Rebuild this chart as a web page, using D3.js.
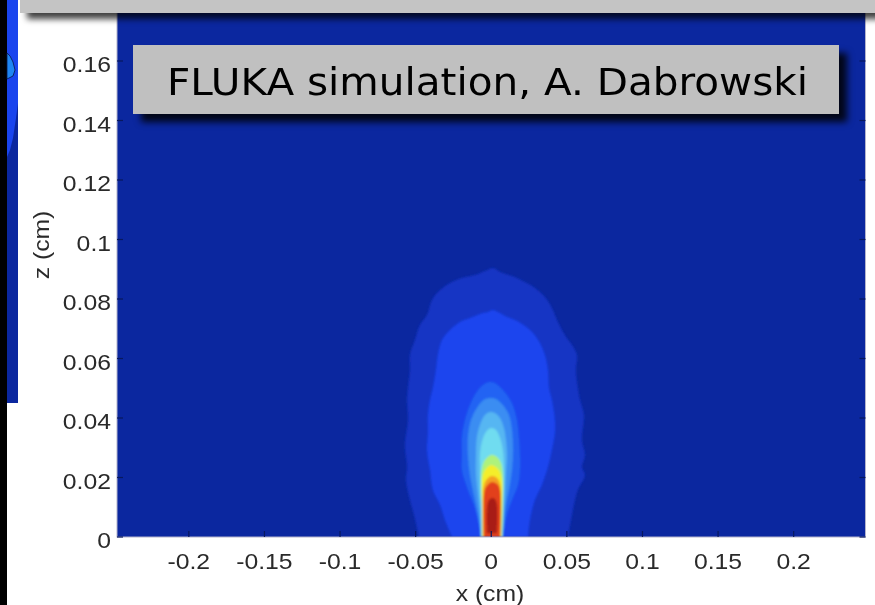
<!DOCTYPE html>
<html>
<head>
<meta charset="utf-8">
<script src="https://cdn.jsdelivr.net/npm/d3@7"></script>
<style>
  html, body { margin: 0; padding: 0; background: #fff; overflow: hidden; }
  svg { display: block; }
</style>
</head>
<body>
<svg id="chart" width="875" height="605"></svg>
<script>
// ---- axis ticks ----
const xTicks = [-0.2, -0.15, -0.1, -0.05, 0, 0.05, 0.1, 0.15, 0.2];
const xTickLabels = ["-0.2", "-0.15", "-0.1", "-0.05", "0", "0.05", "0.1", "0.15", "0.2"];
const zTicks = [0, 0.02, 0.04, 0.06, 0.08, 0.1, 0.12, 0.14, 0.16, 0.18];
const zTickLabels = ["0", "0.02", "0.04", "0.06", "0.08", "0.1", "0.12", "0.14", "0.16", "0.18"];

// ---- filled contour levels (x cm, z cm), outermost first ----
const levelColors = ["#1434c4", "#1a45ee", "#2064f3", "#3a8df2", "#56b6f2",
                     "#70dcf0", "#aef27c", "#f4ee2a", "#f4a024", "#e2401a", "#a81c12"];
const backgroundColor = "#0b279f";

const level1 = [[-0.0478,0],[-0.0511,0.0074],[-0.0538,0.0124],[-0.0564,0.0192],[-0.0557,0.0235],
  [-0.0571,0.0309],[-0.0551,0.0393],[-0.0557,0.0461],[-0.0551,0.0501],[-0.0538,0.0561],
  [-0.0538,0.0612],[-0.0505,0.0662],[-0.0472,0.0713],[-0.0425,0.0746],[-0.0392,0.0797],
  [-0.0339,0.0830],[-0.0273,0.0854],[-0.0194,0.0871],[-0.0108,0.0881],[-0.0028,0.0897],
  [0.0011,0.0904],[0.0058,0.0891],[0.0137,0.0877],[0.0223,0.0857],[0.0289,0.0837],
  [0.0355,0.0807],[0.0401,0.0770],[0.0441,0.0723],[0.0487,0.0679],[0.0534,0.0645],
  [0.0567,0.0612],[0.0560,0.0561],[0.0573,0.0501],[0.0587,0.0461],[0.0613,0.0410],
  [0.0600,0.0326],[0.0620,0.0276],[0.0600,0.0235],[0.0620,0.0208],[0.0573,0.0158],
  [0.0554,0.0124],[0.0534,0.0074],[0.0507,0]];
const level2 = [[-0.0260,0],[-0.0306,0.0057],[-0.0339,0.0108],[-0.0386,0.0158],[-0.0405,0.0225],
  [-0.0425,0.0292],[-0.0419,0.0350],[-0.0419,0.0410],[-0.0405,0.0461],[-0.0386,0.0501],
  [-0.0366,0.0561],[-0.0353,0.0612],[-0.0326,0.0662],[-0.0273,0.0696],[-0.0207,0.0723],
  [-0.0141,0.0736],[-0.0075,0.0750],[-0.0022,0.0756],[0.0011,0.0763],[0.0044,0.0756],
  [0.0091,0.0743],[0.0157,0.0729],[0.0223,0.0709],[0.0276,0.0686],[0.0322,0.0652],
  [0.0355,0.0612],[0.0375,0.0561],[0.0382,0.0501],[0.0401,0.0461],[0.0421,0.0393],
  [0.0421,0.0350],[0.0401,0.0292],[0.0375,0.0235],[0.0335,0.0175],[0.0289,0.0124],
  [0.0256,0.0057],[0.0243,0]];
const level3 = [[-0.0062,0],[-0.0088,0.0057],[-0.0115,0.0108],[-0.0154,0.0158],[-0.0194,0.0225],
  [-0.0194,0.0276],[-0.0194,0.0336],[-0.0174,0.0393],[-0.0141,0.0444],[-0.0101,0.0484],
  [-0.0055,0.0511],[-0.0015,0.0521],[0.0024,0.0518],[0.0077,0.0494],[0.0137,0.0450],
  [0.0170,0.0393],[0.0183,0.0336],[0.0190,0.0276],[0.0190,0.0225],[0.0177,0.0175],
  [0.0137,0.0124],[0.0104,0.0074],[0.0077,0]];
const level4 = [[-0.0068,0],[-0.0088,0.0074],[-0.0115,0.0141],[-0.0141,0.0208],[-0.0154,0.0276],
  [-0.0154,0.0336],[-0.0134,0.0393],[-0.0095,0.0434],[-0.0048,0.0461],[-0.0009,0.0467],
  [0.0031,0.0464],[0.0077,0.0444],[0.0117,0.0410],[0.0137,0.0360],[0.0144,0.0292],
  [0.0137,0.0225],[0.0117,0.0158],[0.0097,0.0108],[0.0077,0]];
const level5 = [[-0.0068,0],[-0.0075,0.0074],[-0.0088,0.0141],[-0.0101,0.0208],[-0.0101,0.0276],
  [-0.0095,0.0336],[-0.0075,0.0376],[-0.0042,0.0410],[-0.0009,0.0420],[0.0024,0.0417],
  [0.0058,0.0400],[0.0084,0.0366],[0.0097,0.0326],[0.0104,0.0276],[0.0097,0.0208],
  [0.0091,0.0141],[0.0084,0.0074],[0.0077,0]];
const level6 = [[-0.0068,0],[-0.0068,0.0091],[-0.0075,0.0158],[-0.0075,0.0225],[-0.0075,0.0276],
  [-0.0062,0.0319],[-0.0035,0.0353],[-0.0002,0.0366],[0.0031,0.0360],[0.0058,0.0333],
  [0.0077,0.0292],[0.0084,0.0242],[0.0084,0.0175],[0.0077,0.0091],[0.0071,0]];
const level7 = [[-0.0062,0],[-0.0062,0.0124],[-0.0068,0.0192],[-0.0062,0.0232],[-0.0042,0.0259],
  [-0.0002,0.0276],[0.0038,0.0269],[0.0064,0.0249],[0.0077,0.0208],[0.0077,0.0124],[0.0071,0]];
const level8 = [[-0.0055,0],[-0.0062,0.0124],[-0.0062,0.0175],[-0.0055,0.0208],[-0.0035,0.0229],
  [-0.0002,0.0242],[0.0031,0.0235],[0.0058,0.0218],[0.0071,0.0185],[0.0071,0.0124],[0.0064,0]];
const level9 = [[-0.0055,0],[-0.0055,0.0141],[-0.0048,0.0175],[-0.0028,0.0195],[0.0005,0.0205],
  [0.0038,0.0198],[0.0058,0.0178],[0.0064,0.0141],[0.0064,0]];
const level10 = [[-0.0048,0],[-0.0048,0.0141],[-0.0035,0.0168],[0.0005,0.0185],[0.0038,0.0178],
  [0.0058,0.0158],[0.0058,0]];
const level11 = [[-0.0028,0.0013],[-0.0028,0.0097],[-0.0015,0.0124],[0.0005,0.0131],[0.0024,0.0128],
  [0.0038,0.0108],[0.0038,0.0013]];
const levels = [level1, level2, level3, level4, level5, level6, level7, level8, level9, level10, level11];

const titleText = "FLUKA simulation, A. Dabrowski";

// ---- layout ----
const W = 875, H = 605;
const plot = { left: 117, right: 865.5, top: 0, bottom: 537 };

const svg = d3.select("#chart");
const defs = svg.append("defs");

defs.append("clipPath").attr("id", "plotClip")
  .append("rect")
  .attr("x", plot.left).attr("y", plot.top)
  .attr("width", plot.right - plot.left).attr("height", plot.bottom - plot.top);

defs.append("filter").attr("id", "soft")
  .attr("x", "-5%").attr("y", "-5%").attr("width", "110%").attr("height", "110%")
  .append("feGaussianBlur").attr("stdDeviation", 1.3);

defs.append("filter").attr("id", "textSoft")
  .append("feGaussianBlur").attr("stdDeviation", 0.55);

function dropShadow(id, dx, dy, sd, op, h) {
  defs.append("filter").attr("id", id)
    .attr("x", "-5%").attr("y", "-20%").attr("width", "115%").attr("height", h)
    .append("feDropShadow")
    .attr("dx", dx).attr("dy", dy).attr("stdDeviation", sd)
    .attr("flood-color", "#000").attr("flood-opacity", op);
}
dropShadow("barShadow", 7, 6, 3, 0.75, "300%");
dropShadow("boxShadow", 8, 8, 3.5, 0.85, "160%");

// page background
svg.append("rect").attr("width", W).attr("height", H).attr("fill", "#fff");

// left strip: edge of a neighbouring panel
svg.append("rect").attr("x", 0).attr("y", 0).attr("width", 7).attr("height", H).attr("fill", "#000");
svg.append("rect").attr("x", 7).attr("y", 0).attr("width", 11).attr("height", 403).attr("fill", backgroundColor);
svg.append("path").attr("d", "M7,0 L18,0 L18,103 L16,118 L13,138 L10,150 L7,157 Z").attr("fill", "#1a45ee");
svg.append("path").attr("d", "M7,53 L10,56 L13,62 L15,70 L13,76 L9,78 L7,79 Z")
  .attr("fill", "#1f86f2").attr("stroke", "#06164a").attr("stroke-width", 0.8);

// scales
const x = d3.scaleLinear().domain([-0.2475, 0.2475]).range([plot.left, plot.right]);
const y = d3.scaleLinear().domain([0, 0.18]).range([537, 1.5]);

// plot background (lowest contour level)
svg.append("rect")
  .attr("x", plot.left).attr("y", plot.top)
  .attr("width", plot.right - plot.left).attr("height", plot.bottom - plot.top)
  .attr("fill", backgroundColor);

// filled contours
const contourLine = d3.line()
  .x(d => x(d[0]))
  .y(d => y(d[1]))
  .curve(d3.curveCatmullRom.alpha(0.5));

svg.append("g").attr("clip-path", "url(#plotClip)")
  .append("g").attr("filter", "url(#soft)")
  .selectAll("path")
  .data(levels)
  .join("path")
  .attr("d", d => contourLine(d) + "Z")
  .attr("fill", (d, i) => levelColors[i]);

// axes frame
svg.append("rect")
  .attr("x", plot.left).attr("y", plot.top)
  .attr("width", plot.right - plot.left).attr("height", plot.bottom - plot.top)
  .attr("fill", "none").attr("stroke", "#b4b4cc").attr("stroke-width", 1);

const tickColor = "#08185e";
const tickLen = 6;
// bottom ticks (inward)
svg.append("g").selectAll("line").data(xTicks).join("line")
  .attr("x1", d => x(d)).attr("x2", d => x(d))
  .attr("y1", plot.bottom).attr("y2", plot.bottom - tickLen)
  .attr("stroke", tickColor).attr("stroke-width", 1.2);
// left and right ticks (inward)
svg.append("g").selectAll("line").data(zTicks).join("line")
  .attr("x1", plot.left).attr("x2", plot.left + tickLen)
  .attr("y1", d => y(d)).attr("y2", d => y(d))
  .attr("stroke", tickColor).attr("stroke-width", 1.2);
svg.append("g").selectAll("line").data(zTicks).join("line")
  .attr("x1", plot.right).attr("x2", plot.right - tickLen)
  .attr("y1", d => y(d)).attr("y2", d => y(d))
  .attr("stroke", tickColor).attr("stroke-width", 1.2);

// tick labels
const labelFont = "'Liberation Sans', Arial, Helvetica, sans-serif";
const stretchX = 1.15;
function stretch(sel, k) {
  sel.each(function () {
    const w = this.getComputedTextLength();
    this.setAttribute("textLength", w * k);
    this.setAttribute("lengthAdjust", "spacingAndGlyphs");
  });
}

const labels = svg.append("g").attr("filter", "url(#textSoft)")
  .attr("font-family", labelFont).attr("fill", "#2a2a2a");

labels.selectAll("text.xt").data(xTicks).join("text")
  .attr("class", "xt")
  .attr("x", d => x(d)).attr("y", 569)
  .attr("text-anchor", "middle")
  .attr("font-size", 21.5)
  .text((d, i) => xTickLabels[i])
  .call(stretch, stretchX);

labels.selectAll("text.zt").data(zTicks).join("text")
  .attr("class", "zt")
  .attr("x", 111).attr("y", d => y(d) + 11)
  .attr("text-anchor", "end")
  .attr("font-size", 21.5)
  .text((d, i) => zTickLabels[i])
  .call(stretch, stretchX);

labels.append("text")
  .attr("x", 490).attr("y", 601)
  .attr("text-anchor", "middle")
  .attr("font-size", 21.5)
  .text("x (cm)")
  .call(stretch, stretchX);

labels.append("text")
  .attr("transform", "translate(49,245) rotate(-90)")
  .attr("text-anchor", "middle")
  .attr("font-size", 21.5)
  .text("z (cm)")
  .call(stretch, stretchX);

// top grey bar
svg.append("rect")
  .attr("x", 20).attr("y", -10).attr("width", W - 20 + 20).attr("height", 23)
  .attr("fill", "#c4c4c4").attr("filter", "url(#barShadow)");

// annotation box
const box = svg.append("g");
box.append("rect")
  .attr("x", 133).attr("y", 45).attr("width", 706).attr("height", 69)
  .attr("fill", "#c0c0c0").attr("filter", "url(#boxShadow)");
box.append("text")
  .attr("x", 167).attr("y", 95)
  .attr("font-family", "'DejaVu Sans', Verdana, sans-serif")
  .attr("font-size", 37)
  .attr("fill", "#000")
  .attr("textLength", 641)
  .attr("lengthAdjust", "spacingAndGlyphs")
  .text(titleText);
</script>
</body>
</html>
